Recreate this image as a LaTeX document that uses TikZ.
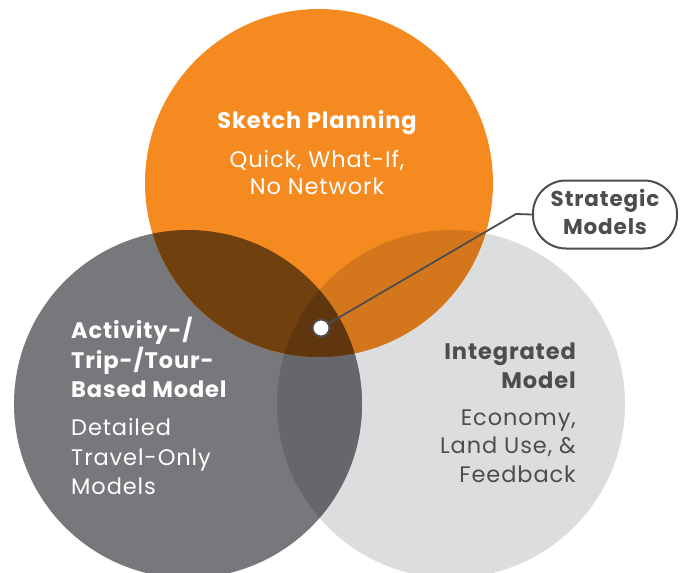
\documentclass[tikz,border=0pt]{standalone}
\usepackage{fontspec}
\setmainfont{Poppins}[LetterSpace=4]
\definecolor{orangeC}{HTML}{F58A20}
\definecolor{darkC}{HTML}{77787B}
\definecolor{lightC}{HTML}{DCDDDF}
\definecolor{brownC}{HTML}{70400F}
\definecolor{orlightC}{HTML}{D4771C}
\definecolor{dklC}{HTML}{66676A}
\definecolor{centerC}{HTML}{5F360E}
\definecolor{textC}{HTML}{4D4D4F}
\begin{document}
\begin{tikzpicture}[x=1pt,y=-1pt,
  title/.style={font=\fontsize{22.5}{27}\selectfont\bfseries, inner sep=0pt},
  sub/.style={font=\fontsize{22.5}{27}\selectfont, inner sep=0pt},
  linkline/.style={draw=textC, line width=1.8pt},
]
\useasboundingbox (0,0) rectangle (686,573);
\coordinate (O) at (319,183);
\coordinate (D) at (188,404);
\coordinate (L) at (451,404);
\fill[lightC] (L) circle[radius=174pt];
\fill[darkC] (D) circle[radius=174pt];
\fill[orangeC] (O) circle[radius=174pt];
\begin{scope}
  \clip (D) circle[radius=174pt];
  \fill[dklC] (L) circle[radius=174pt];
\end{scope}
\begin{scope}
  \clip (O) circle[radius=174pt];
  \fill[orlightC] (L) circle[radius=174pt];
  \fill[brownC] (D) circle[radius=174pt];
  \clip (D) circle[radius=174pt];
  \fill[centerC] (L) circle[radius=174pt];
\end{scope}
% sketch planning
\node[title, text=white, anchor=base] (sk1) at (317,128.3) {Sketch Planning};
\node[sub, text=white, anchor=base] (sk2) at (317,167.7) {Quick, What-If,};
\node[sub, text=white, anchor=base] (sk3) at (317,194.5) {No Network};
% activity
\node[title, text=white, anchor=base west] (ac1) at (71,338.3) {Activity-/};
\node[title, text=white, anchor=base west] (ac2) at (71,368) {Trip-/Tour-};
\node[title, text=white, anchor=base west] (ac3) at (71,397.7) {Based Model};
\node[sub, text=white, anchor=base west] (ac4) at (71,435) {Detailed};
\node[sub, text=white, anchor=base west] (ac5) at (71,465) {Travel-Only};
\node[sub, text=white, anchor=base west] (ac6) at (71,494.3) {Models};
% integrated
\node[title, text=textC, anchor=base east] (in1) at (576,359.3) {Integrated};
\node[title, text=textC, anchor=base east] (in2) at (576,388.3) {Model};
\node[sub, text=textC, anchor=base east] (in3) at (576,425) {Economy,};
\node[sub, text=textC, anchor=base east] (in4) at (576,453.5) {Land Use, \&};
\node[sub, text=textC, anchor=base east] (in5) at (576,482.3) {Feedback};
% strategic
\node[draw=textC, line width=2pt, rounded corners=33pt, minimum width=144pt, minimum height=68pt, inner sep=0pt] (strat) at (605,214.5) {};
\node[font=\fontsize{21.5}{26}\selectfont\bfseries, text=textC, inner sep=0pt, anchor=base] (st1) at (605,206.7) {Strategic};
\node[font=\fontsize{21.5}{26}\selectfont\bfseries, text=textC, inner sep=0pt, anchor=base] (st2) at (605,234) {Models};
\node[circle, fill=white, draw=textC, line width=2pt, minimum size=17pt, inner sep=0pt] (dot) at (321,328) {};
\coordinate (elbow) at (516,214);
\draw[linkline] (dot) -- (elbow) -- (strat.west);
\end{tikzpicture}
\end{document}
